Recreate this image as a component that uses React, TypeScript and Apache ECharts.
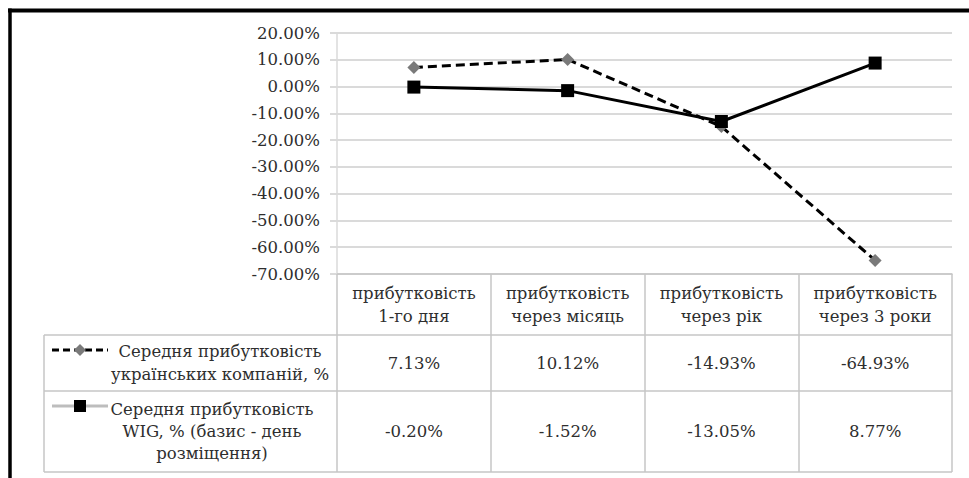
import React, { useEffect, useRef } from "react";
import * as echarts from "echarts";

// Column headings of the data table (also the category axis)
const categories = [
  "прибутковість\n1-го дня",
  "прибутковість\nчерез місяць",
  "прибутковість\nчерез рік",
  "прибутковість\nчерез 3 роки",
];

// Series names as shown in the table's first column
const seriesNames = [
  "Середня прибутковість\nукраїнських компаній, %",
  "Середня прибутковість\nWIG, % (базис - день\nрозміщення)",
];

// Average returns, %
const ukrReturns = [7.13, 10.12, -14.93, -64.93];
const wigReturns = [-0.2, -1.52, -13.05, 8.77];

// Value axis range
const yMin = -70;
const yMax = 20;
const yStep = 10;

const FONT = "DejaVu Serif";
const FONT_SIZE = 16.5;
const TEXT = "#2e2e2e";
const GRID_GRAY = "#dadada";
const TABLE_GRAY = "#c6c6c6";

const pct = (v: number) => v.toFixed(2) + "%";

export default function App() {
  const ref = useRef<HTMLDivElement>(null);

  useEffect(() => {
    if (!ref.current) return;
    const chart = echarts.init(ref.current, null, { renderer: "svg" });

    const W = 969;
    const H = 478;
    const gridLeft = 337;
    const gridRight = 17;
    const gridTop = 33;
    const axisY = 274;
    const tableLeft = 44;
    const row1Top = 335;
    const row2Top = 391;
    const tableBottom = 472;
    const tableRight = W - gridRight;

    const textStyle = { fontFamily: FONT, fontSize: FONT_SIZE, color: TEXT };

    // hidden category axes whose labels fill the value rows of the table
    const valueAxis = (data: number[], rowCenter: number) => ({
      type: "category",
      gridIndex: 0,
      position: "bottom",
      offset: rowCenter - axisY,
      data: data.map(pct),
      boundaryGap: true,
      axisLine: { show: false },
      axisTick: { show: false },
      splitLine: { show: false },
      axisLabel: {
        ...textStyle,
        margin: 0,
        verticalAlign: "middle",
        interval: 0,
      },
    });

    chart.setOption({
      animation: false,
      backgroundColor: "#ffffff",
      grid: {
        left: gridLeft,
        right: gridRight,
        top: gridTop,
        bottom: H - axisY,
        containLabel: false,
      },
      xAxis: [
        {
          type: "category",
          data: categories,
          boundaryGap: true,
          axisLine: { show: true, onZero: false, lineStyle: { color: TABLE_GRAY, width: 1.5 } },
          axisTick: {
            show: true,
            length: tableBottom - axisY,
            interval: 0,
            lineStyle: { color: TABLE_GRAY, width: 1.5 },
          },
          splitLine: { show: false },
          axisLabel: {
            ...textStyle,
            margin: 8,
            lineHeight: 23,
            interval: 0,
          },
        },
        valueAxis(ukrReturns, (row1Top + row2Top) / 2),
        valueAxis(wigReturns, (row2Top + tableBottom) / 2),
      ],
      yAxis: {
        type: "value",
        min: yMin,
        max: yMax,
        interval: yStep,
        axisLine: { show: true, lineStyle: { color: GRID_GRAY, width: 1.5 } },
        axisTick: { show: true, length: 7, lineStyle: { color: GRID_GRAY, width: 2 } },
        splitLine: { show: true, lineStyle: { color: GRID_GRAY, width: 2 } },
        axisLabel: {
          ...textStyle,
          margin: 17,
          formatter: (v: number) => pct(v),
        },
      },
      series: [
        {
          name: seriesNames[0],
          type: "line",
          data: ukrReturns,
          symbol: "diamond",
          symbolSize: 13,
          itemStyle: { color: "#7a7a7a" },
          lineStyle: { color: "#000000", width: 3, type: [9, 5] },
          z: 2,
        },
        {
          name: seriesNames[1],
          type: "line",
          data: wigReturns,
          symbol: "rect",
          symbolSize: 13,
          itemStyle: { color: "#000000" },
          lineStyle: { color: "#000000", width: 3 },
          z: 3,
        },
      ],
      graphic: [
        // outer frame (top and left edges)
        {
          type: "line",
          shape: { x1: 8, y1: 10.5, x2: W, y2: 10.5 },
          style: { stroke: "#000000", lineWidth: 4 },
        },
        {
          type: "line",
          shape: { x1: 10, y1: 8.5, x2: 10, y2: H },
          style: { stroke: "#000000", lineWidth: 3.5 },
        },
        // data table borders
        ...[row1Top, row2Top, tableBottom].map((y) => ({
          type: "line",
          shape: { x1: tableLeft, y1: y, x2: tableRight, y2: y },
          style: { stroke: TABLE_GRAY, lineWidth: 1.5 },
        })),
        {
          type: "line",
          shape: { x1: tableLeft, y1: row1Top, x2: tableLeft, y2: tableBottom },
          style: { stroke: TABLE_GRAY, lineWidth: 1.5 },
        },
        // legend keys
        {
          type: "line",
          shape: { x1: 52, y1: 350, x2: 108, y2: 350 },
          style: { stroke: "#000000", lineWidth: 3, lineDash: [7, 4] },
        },
        {
          type: "polygon",
          shape: { points: [[80, 344], [86, 350], [80, 356], [74, 350]] },
          style: { fill: "#7a7a7a" },
        },
        {
          type: "line",
          shape: { x1: 52, y1: 406, x2: 108, y2: 406 },
          style: { stroke: "#bdbdbd", lineWidth: 3 },
        },
        {
          type: "rect",
          shape: { x: 74, y: 400, width: 12, height: 12 },
          style: { fill: "#000000" },
        },
        // series names
        {
          type: "text",
          x: 220,
          y: (row1Top + row2Top) / 2,
          style: {
            text: seriesNames[0],
            font: `${FONT_SIZE}px "${FONT}"`,
            fill: TEXT,
            align: "center",
            verticalAlign: "middle",
            lineHeight: 23,
          },
        },
        {
          type: "text",
          x: 212,
          y: (row2Top + tableBottom) / 2,
          style: {
            text: seriesNames[1],
            font: `${FONT_SIZE}px "${FONT}"`,
            fill: TEXT,
            align: "center",
            verticalAlign: "middle",
            lineHeight: 22,
          },
        },
      ],
    });

    return () => chart.dispose();
  }, []);

  return (
    <div
      ref={ref}
      style={{ position: "absolute", left: 0, top: 0, width: 969, height: 478 }}
    />
  );
}
